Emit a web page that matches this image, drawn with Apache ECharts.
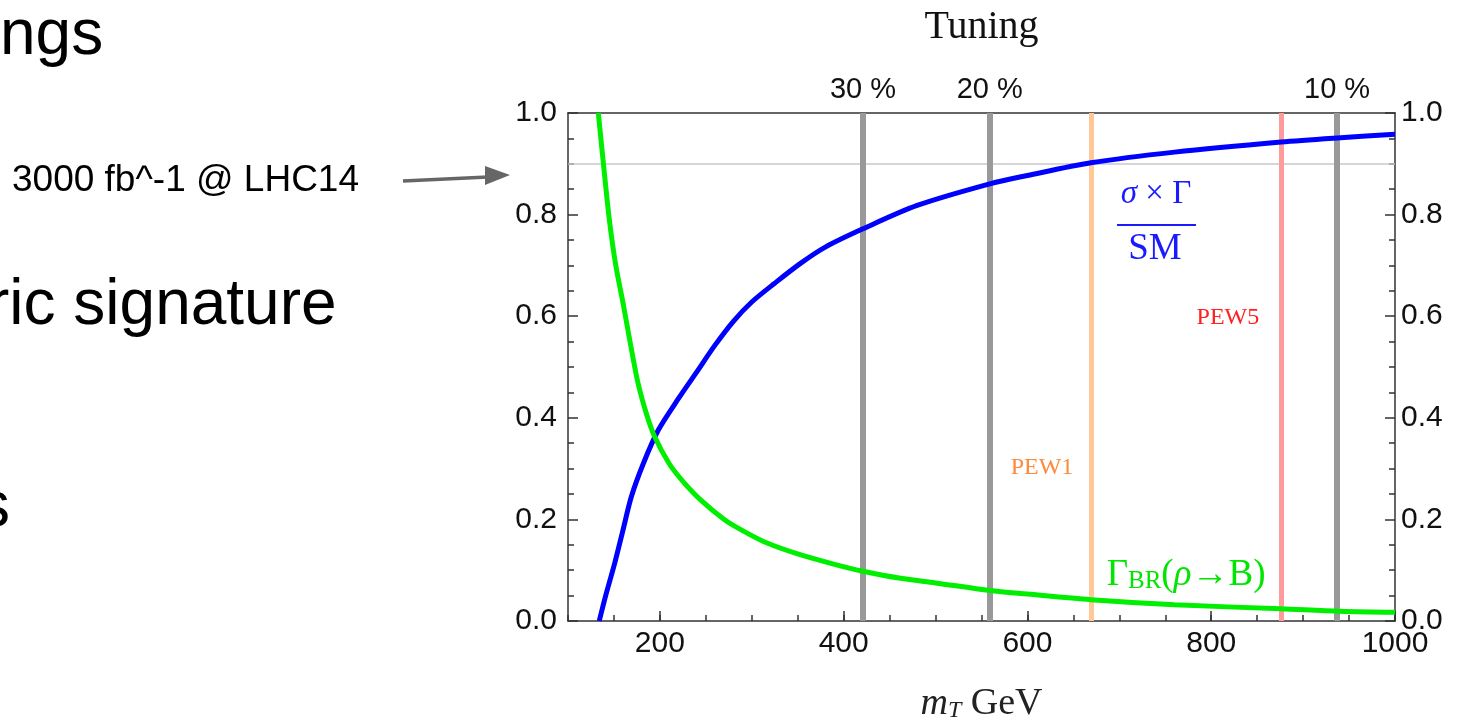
<!DOCTYPE html>
<html>
<head>
<meta charset="utf-8">
<script src="https://cdn.jsdelivr.net/npm/echarts@6/dist/echarts.min.js"></script>
<style>
  html, body { margin: 0; padding: 0; background: #fff; }
  #chart-container { width: 1460px; height: 728px; }
</style>
</head>
<body>
<div id="chart-container"></div>
<script>
var dom = document.getElementById("chart-container");
var myChart = echarts.init(dom, null, { renderer: "canvas" });

// sigma x Gamma / SM (blue)
var blueX = [134, 141, 151, 160, 169, 182, 198, 221, 240, 260, 280, 300, 325, 353, 380, 421, 480, 560, 600, 669, 760, 876, 937, 1000];
var blueY = [0, 0.05, 0.115, 0.18, 0.245, 0.31, 0.375, 0.44, 0.49, 0.543, 0.59, 0.628, 0.665, 0.704, 0.736, 0.772, 0.818, 0.861, 0.877, 0.902, 0.923, 0.943, 0.951, 0.958];

// Gamma_BR(rho -> B) (green)
var greenX = [133, 138, 145, 152, 160, 168, 176, 185, 194, 210, 225, 244, 270, 290, 316, 350, 389, 421, 462, 500, 559, 600, 669, 760, 876, 940, 1000];
var greenY = [1.0, 0.91, 0.79, 0.70, 0.625, 0.545, 0.47, 0.41, 0.364, 0.31, 0.275, 0.239, 0.2, 0.178, 0.154, 0.132, 0.112, 0.098, 0.084, 0.075, 0.06, 0.053, 0.042, 0.032, 0.024, 0.019, 0.017];

// tuning lines (top axis)
var tuningPos = [421, 559, 937];
var tuningLabels = ["30 %", "20 %", "10 %"];

// PEW bounds
var pewPos = [669, 876];
var pewLabels = ["PEW1", "PEW5"];

var xTicks = [200, 400, 600, 800, 1000];
var reachLevel = 0.9; // 3000 fb^-1 @ LHC14

function pairs(xs, ys) {
  return xs.map(function (x, i) { return [x, ys[i]]; });
}

var sans = "Liberation Sans";
var serif = "Liberation Serif";

var yAxisBase = {
  type: "value",
  min: 0,
  max: 1,
  interval: 0.2,
  axisLine: { show: true, lineStyle: { color: "#333", width: 1.5 } },
  axisTick: { show: true, inside: true, length: 10, lineStyle: { color: "#333", width: 1.5 } },
  minorTick: { show: true, splitNumber: 4, length: 6, lineStyle: { color: "#333", width: 1.5 } },
  splitLine: { show: false },
  axisLabel: {
    fontFamily: sans, fontSize: 30, color: "#111",
    formatter: function (v) { return v.toFixed(1); }
  }
};

var option = {
  animation: false,
  backgroundColor: "#fff",
  grid: { left: 568, right: 65, top: 113, bottom: 102 },
  xAxis: [
    {
      type: "value", position: "bottom", min: 100, max: 1000, interval: 50,
      axisLine: { show: true, onZero: false, lineStyle: { color: "#333", width: 1.5 } },
      axisTick: { show: true, inside: true, length: 6, lineStyle: { color: "#333", width: 1.5 } },
      splitLine: { show: false },
      axisLabel: {
        customValues: xTicks, margin: 8,
        fontFamily: sans, fontSize: 30, color: "#111",
        formatter: function (v) { return String(v); }
      },
      name: "{m|m}{t|T}{g| GeV}",
      nameLocation: "middle",
      nameGap: 64,
      nameTextStyle: {
        rich: {
          m: { fontFamily: serif, fontStyle: "italic", fontSize: 38, lineHeight: 38, color: "#222" },
          t: { fontFamily: serif, fontStyle: "italic", fontSize: 24, lineHeight: 14, verticalAlign: "bottom", color: "#222" },
          g: { fontFamily: serif, fontSize: 38, lineHeight: 38, color: "#222" }
        }
      }
    },
    {
      type: "value", position: "top", min: 100, max: 1000,
      axisLine: { show: true, onZero: false, lineStyle: { color: "#333", width: 1.5 } },
      axisTick: { show: true, inside: true, length: 8, customValues: tuningPos, lineStyle: { color: "#555", width: 1.5 } },
      splitLine: { show: false },
      axisLabel: {
        customValues: tuningPos, margin: 9,
        fontFamily: sans, fontSize: 29, color: "#111",
        formatter: function (v) { return tuningLabels[tuningPos.indexOf(v)]; }
      },
      name: "Tuning",
      nameLocation: "middle",
      nameGap: 66,
      nameTextStyle: { fontFamily: serif, fontSize: 40, color: "#111" }
    },
    {
      type: "value", position: "bottom", min: 100, max: 1000,
      axisLine: { show: false },
      axisTick: { show: true, inside: true, length: 10, customValues: xTicks, lineStyle: { color: "#333", width: 1.5 } },
      axisLabel: { show: false },
      splitLine: { show: false }
    }
  ],
  yAxis: [
    Object.assign({}, yAxisBase, { position: "left", axisLabel: Object.assign({}, yAxisBase.axisLabel, { margin: 11 }) }),
    Object.assign({}, yAxisBase, { position: "right", axisLabel: Object.assign({}, yAxisBase.axisLabel, { margin: 6 }) })
  ],
  series: [
    {
      // reference lines
      type: "line",
      data: [],
      z: 1,
      markLine: {
        z: 1,
        silent: true,
        symbol: "none",
        label: { show: false },
        data: [
          { yAxis: reachLevel, lineStyle: { color: "#c8c8c8", width: 1.5, type: "solid" } },
          { xAxis: tuningPos[0], lineStyle: { color: "#999", width: 6, type: "solid" } },
          { xAxis: tuningPos[1], lineStyle: { color: "#999", width: 6, type: "solid" } },
          { xAxis: tuningPos[2], lineStyle: { color: "#999", width: 6, type: "solid" } },
          { xAxis: pewPos[0], lineStyle: { color: "#ffc896", width: 5, type: "solid" } },
          { xAxis: pewPos[1], lineStyle: { color: "#ff9b9b", width: 5, type: "solid" } }
        ]
      },
      markPoint: {
        symbolSize: 0,
        silent: true,
        label: { show: true, position: "inside", fontFamily: serif, fontSize: 24 },
        data: [
          { coord: [615.8, 0.302], value: pewLabels[0], label: { formatter: "{b}", color: "#ff8a3c" }, name: pewLabels[0] },
          { coord: [818.2, 0.598], value: pewLabels[1], label: { formatter: "{b}", color: "#ff2020" }, name: pewLabels[1] }
        ]
      }
    },
    {
      name: "sigma",
      type: "line",
      xAxisIndex: 0,
      yAxisIndex: 0,
      data: pairs(blueX, blueY),
      showSymbol: false,
      smooth: 0.3,
      clip: true,
      z: 10,
      lineStyle: { color: "#0000ff", width: 5 },
      markLine: {
        silent: true,
        symbol: "none",
        label: { show: false },
        lineStyle: { color: "#1a1aff", width: 2, type: "solid" },
        data: [[{ coord: [697.5, 0.78] }, { coord: [783.4, 0.78] }]]
      },
      markPoint: {
        symbolSize: 0,
        silent: true,
        data: [
          {
            coord: [739.9, 0.839], name: "num",
            label: {
              show: true, position: "inside",
              formatter: "{i|σ}{n| × Γ}",
              rich: {
                i: { fontFamily: serif, fontStyle: "italic", fontSize: 33, color: "#1a1aff" },
                n: { fontFamily: serif, fontSize: 33, color: "#1a1aff" }
              }
            }
          },
          {
            coord: [738.8, 0.732], name: "den",
            label: { show: true, position: "inside", formatter: "SM", fontFamily: serif, fontSize: 37, color: "#1a1aff" }
          }
        ]
      }
    },
    {
      name: "gamma",
      type: "line",
      xAxisIndex: 0,
      yAxisIndex: 0,
      data: pairs(greenX, greenY),
      showSymbol: false,
      smooth: 0.3,
      clip: true,
      z: 10,
      lineStyle: { color: "#00ee00", width: 5 },
      markPoint: {
        symbolSize: 0,
        silent: true,
        data: [
          {
            coord: [772.6, 0.09], name: "gbr",
            label: {
              show: true, position: "inside",
              formatter: "{g|Γ}{s|BR}{g|(}{r|ρ}{g|→B)}",
              rich: {
                g: { fontFamily: serif, fontSize: 37, lineHeight: 38, color: "#00e600" },
                r: { fontFamily: serif, fontStyle: "italic", fontSize: 37, lineHeight: 38, color: "#00e600" },
                s: { fontFamily: serif, fontSize: 25, lineHeight: 16, verticalAlign: "bottom", color: "#00e600" }
              }
            }
          }
        ]
      }
    }
  ],
  graphic: [
    { type: "text", style: { text: "ngs", x: 0, y: 36, verticalAlign: "middle", font: "64px 'Liberation Sans'", fill: "#000" } },
    { type: "text", style: { text: "ric signature", x: -12, y: 306, verticalAlign: "middle", font: "64px 'Liberation Sans'", fill: "#000" } },
    { type: "text", style: { text: "s", x: -22, y: 508, verticalAlign: "middle", font: "64px 'Liberation Sans'", fill: "#000" } },
    { type: "text", style: { text: "3000 fb^-1 @ LHC14", x: 12, y: 181, verticalAlign: "middle", font: "37px 'Liberation Sans'", fill: "#000" } },
    { type: "polyline", shape: { points: [[403, 181], [488, 177]] }, style: { stroke: "#666", lineWidth: 3.5 } },
    { type: "polygon", shape: { points: [[485, 166], [510, 175], [485, 185]] }, style: { fill: "#666" } }
  ]
};

myChart.setOption(option);
window.addEventListener("resize", myChart.resize);
</script>
</body>
</html>
